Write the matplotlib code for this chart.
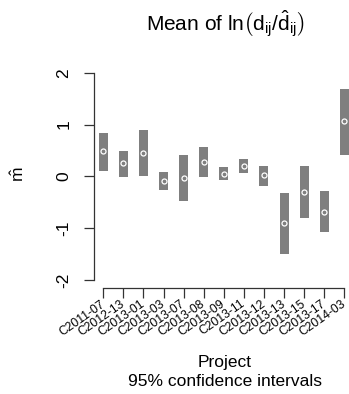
import matplotlib
matplotlib.use("Agg")
import matplotlib.pyplot as plt

plt.rcParams['font.family'] = ['Liberation Sans', 'DejaVu Sans']
plt.rcParams['mathtext.fontset'] = 'custom'
plt.rcParams['mathtext.rm'] = 'Liberation Sans'
plt.rcParams['mathtext.it'] = 'Liberation Sans'
plt.rcParams['mathtext.bf'] = 'Liberation Sans:bold'

projects = ["C2011-07", "C2012-13", "C2013-01", "C2013-03", "C2013-07", "C2013-08",
            "C2013-09", "C2013-11", "C2013-12", "C2013-13", "C2013-15", "C2013-17",
            "C2014-03"]
mean_vals = [0.48, 0.25, 0.46, -0.09, -0.03, 0.28, 0.05, 0.20, 0.02, -0.90, -0.31, -0.68, 1.06]
ci_low = [0.11, -0.01, 0.01, -0.26, -0.47, -0.01, -0.08, 0.07, -0.18, -1.49, -0.80, -1.08, 0.42]
ci_high = [0.84, 0.49, 0.89, 0.08, 0.41, 0.57, 0.18, 0.33, 0.20, -0.32, 0.20, -0.28, 1.69]
y_ticks = [-2, -1, 0, 1, 2]

W, H = 349, 394
fig = plt.figure(figsize=(W / 100, H / 100), dpi=100)

# plot region in pixels (left, top, width, height); right edge runs past the figure
left_px, top_px, w_px, h_px = 93.66, 64.4, 260.3, 223.9
ax = fig.add_axes([left_px / W, (H - top_px - h_px) / H, w_px / W, h_px / H])

n = len(projects)
xs = list(range(1, n + 1))
heights = [hi - lo for lo, hi in zip(ci_low, ci_high)]
ax.bar(xs, heights, bottom=ci_low, width=0.45, color='#7f7f7f', linewidth=0, zorder=2)
ax.plot(xs, mean_vals, linestyle='none', marker='o', markersize=3.6,
        markerfacecolor='none', markeredgecolor='white', markeredgewidth=0.9, zorder=3)

ax.set_xlim(0.52, n + 0.48)
ax.set_ylim(-2.16, 2.16)

for s in ['top', 'right']:
    ax.spines[s].set_visible(False)
ax.spines['left'].set_bounds(-2, 2)
ax.spines['bottom'].set_bounds(1, n)
for s in ['left', 'bottom']:
    ax.spines[s].set_linewidth(0.9)
    ax.spines[s].set_color('#333333')

ax.set_yticks(y_ticks)
ax.set_yticklabels([str(v) for v in y_ticks], rotation=90, va='center', fontsize=12.5)
ax.set_xticks(xs)
ax.set_xticklabels(projects, rotation=35, ha='right', va='center',
                   rotation_mode='anchor', fontsize=8.7)
ax.tick_params(axis='y', length=7, width=0.9, pad=9, color='#333333')
ax.tick_params(axis='x', length=7, width=0.9, pad=3.5, color='#333333')

fig.text(18 / W, 1 - 174 / H, r'$\hat{m}$', rotation=90, ha='center', va='center', fontsize=12.5)
fig.text(225 / W, 1 - 24 / H, r'Mean of $\mathrm{ln}\left(\mathrm{d_{ij}}/\hat{\mathrm{d}}_{\mathrm{ij}}\right)$',
         ha='center', va='center', fontsize=15)
fig.text(225 / W, 1 - 362 / H, 'Project', ha='center', va='center', fontsize=12.5)
fig.text(225 / W, 1 - 381 / H, '95% confidence intervals', ha='center', va='center', fontsize=12.5)

fig.savefig('out.png', dpi=100)
